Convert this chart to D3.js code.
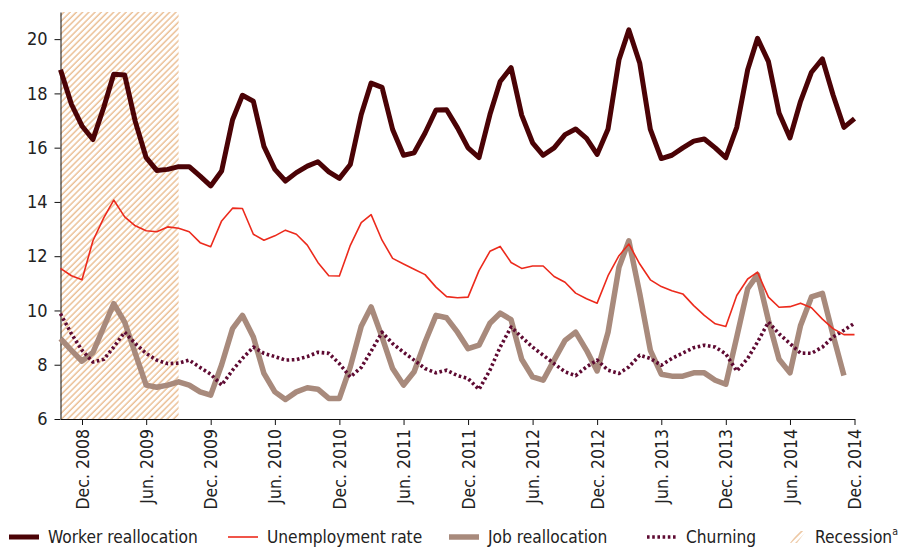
<!DOCTYPE html>
<html>
<head>
<meta charset="utf-8">
<script src="https://cdn.jsdelivr.net/npm/d3@7"></script>
<style>
  html, body { margin: 0; padding: 0; background: #fff; }
  svg text { font-family: "Liberation Sans Narrow", "DejaVu Sans Condensed", "Roboto", sans-serif; fill: #222; }
</style>
</head>
<body>
<div id="chart"></div>
<script>
// monthly series, Oct. 2008 - Dec. 2014
const firstMonth = "2008-10";
const workerRealloc = [18.87, 17.6, 16.8, 16.3, 17.5, 18.71, 18.68, 16.97, 15.63, 15.16, 15.2, 15.3,
  15.3, 14.95, 14.59, 15.14, 17.03, 17.93, 17.71, 16.05, 15.2, 14.77, 15.08, 15.32,
  15.48, 15.11, 14.87, 15.38, 17.22, 18.38, 18.22, 16.67, 15.72, 15.81, 16.54, 17.39,
  17.4, 16.73, 15.99, 15.63, 17.22, 18.44, 18.95, 17.2, 16.18, 15.72, 15.99, 16.48,
  16.69, 16.34, 15.75, 16.69, 19.24, 20.34, 19.11, 16.67, 15.6, 15.72, 15.99, 16.24,
  16.32, 15.99, 15.63, 16.75, 18.87, 20.03, 19.17, 17.28, 16.36, 17.71, 18.78, 19.27,
  17.95, 16.75, 17.07];
const unemployment = [11.55, 11.28, 11.13, 12.57, 13.42, 14.07, 13.45, 13.12, 12.94, 12.9, 13.08, 13.03,
  12.9, 12.5, 12.35, 13.3, 13.77, 13.76, 12.81, 12.59, 12.75, 12.96, 12.81, 12.41,
  11.77, 11.28, 11.27, 12.4, 13.24, 13.53, 12.59, 11.92, 11.71, 11.52, 11.32, 10.86,
  10.51, 10.47, 10.49, 11.47, 12.18, 12.36, 11.77, 11.55, 11.64, 11.64, 11.25, 11.04,
  10.64, 10.43, 10.27, 11.28, 12.02, 12.45, 11.71, 11.13, 10.88, 10.73, 10.61, 10.18,
  9.82, 9.51, 9.41, 10.55, 11.16, 11.41, 10.49, 10.12, 10.14, 10.27, 10.1, 9.68,
  9.33, 9.11, 9.11];
const jobRealloc = [8.96, 8.53, 8.13, 8.45, 9.4, 10.25, 9.57, 8.42, 7.25, 7.17, 7.25, 7.37,
  7.25, 7.0, 6.88, 8.0, 9.33, 9.82, 9.02, 7.68, 7.0, 6.72, 7.0, 7.15,
  7.1, 6.76, 6.76, 7.92, 9.42, 10.13, 9.02, 7.86, 7.25, 7.74, 8.84, 9.82,
  9.73, 9.2, 8.59, 8.72, 9.53, 9.9, 9.66, 8.2, 7.55, 7.43, 8.17, 8.9,
  9.2, 8.53, 7.77, 9.2, 11.59, 12.57, 10.61, 8.53, 7.65, 7.58, 7.58, 7.7,
  7.7, 7.43, 7.28, 9.02, 10.8, 11.32, 9.63, 8.2, 7.7, 9.45, 10.5, 10.63,
  9.1, 7.6, null];
const churning = [9.88, 9.14, 8.53, 8.1, 8.2, 8.65, 9.2, 8.78, 8.42, 8.17, 8.04, 8.06,
  8.17, 7.9, 7.65, 7.25, 7.8, 8.23, 8.65, 8.42, 8.3, 8.17, 8.19, 8.3,
  8.46, 8.42, 8.04, 7.55, 7.9, 8.5, 9.2, 8.78, 8.46, 8.17, 7.86, 7.7,
  7.8, 7.6, 7.49, 7.09, 7.8, 8.65, 9.39, 9.02, 8.65, 8.35, 8.04, 7.74,
  7.6, 7.92, 8.17, 7.8, 7.68, 7.92, 8.35, 8.23, 7.98, 8.23, 8.43, 8.63,
  8.72, 8.65, 8.4, 7.77, 8.23, 8.84, 9.57, 9.14, 8.78, 8.43, 8.42, 8.65,
  9.02, 9.27, 9.53];
const recession = ["2008-10", "2009-09"];
const xTicks = ["2008-12", "2009-06", "2009-12", "2010-06", "2010-12", "2011-06", "2011-12",
  "2012-06", "2012-12", "2013-06", "2013-12", "2014-06", "2014-12"];
const yTicks = [6, 8, 10, 12, 14, 16, 18, 20];

const width = 903, height = 548;
const margin = {left: 60.5, right: 48.5, top: 12, bottom: 129};

const parseMonth = d3.timeParse("%Y-%m");
const start = parseMonth(firstMonth);
const monthAt = i => d3.timeMonth.offset(start, i);
const lastMonth = monthAt(workerRealloc.length - 1);

const x = d3.scaleTime()
  .domain([start, lastMonth])
  .range([margin.left, width - margin.right]);
const y = d3.scaleLinear()
  .domain([6, 21])
  .range([height - margin.bottom, margin.top]);

const svg = d3.select("#chart").append("svg")
  .attr("width", width)
  .attr("height", height);

// hatch for recession
const defs = svg.append("defs");
defs.append("pattern")
  .attr("id", "hatch")
  .attr("patternUnits", "userSpaceOnUse")
  .attr("width", 4.4)
  .attr("height", 4.4)
  .attr("patternTransform", "rotate(45)")
  .append("line")
  .attr("x1", 1).attr("y1", 0)
  .attr("x2", 1).attr("y2", 4.4)
  .attr("stroke", "#e8b788")
  .attr("stroke-width", 1.3);

svg.append("rect")
  .attr("x", x(parseMonth(recession[0])))
  .attr("y", y(21))
  .attr("width", x(parseMonth(recession[1])) - x(parseMonth(recession[0])))
  .attr("height", y(6) - y(21))
  .attr("fill", "url(#hatch)");

// axes
const yAxis = svg.append("g")
  .attr("transform", `translate(${margin.left},0)`)
  .call(d3.axisLeft(y).tickValues(yTicks).tickSize(6).tickSizeOuter(0).tickPadding(7));
yAxis.selectAll("text").attr("font-size", 18).style("font-family", null);

const fmt = d3.timeFormat("%b. %Y");
const xAxis = svg.append("g")
  .attr("transform", `translate(0,${y(6)})`)
  .call(d3.axisBottom(x).tickValues(xTicks.map(parseMonth)).tickFormat(fmt).tickSize(6).tickSizeOuter(0));
xAxis.selectAll("text")
  .attr("font-size", 17.5)
  .style("font-family", null)
  .attr("transform", "rotate(-90)")
  .attr("text-anchor", "end")
  .attr("x", -10)
  .attr("y", 0)
  .attr("dy", "0.35em");

svg.selectAll(".domain, .tick line").attr("stroke", "#111");
svg.selectAll(".tick text").attr("fill", "#222");

// lines
const series = [
  {name: "Worker reallocation", values: workerRealloc, color: "#4b0306", width: 5, dash: null},
  {name: "Unemployment rate", values: unemployment, color: "#ec2a1c", width: 1.6, dash: null},
  {name: "Job reallocation", values: jobRealloc, color: "#a88a7c", width: 5.5, dash: null},
  {name: "Churning", values: churning, color: "#5e0a32", width: 3.6, dash: "2.6 2.6"}
];

const line = d3.line()
  .defined(d => d.v != null)
  .x(d => x(d.date))
  .y(d => y(d.v));

const drawOrder = [2, 3, 1, 0];
drawOrder.forEach(k => {
  const s = series[k];
  svg.append("path")
    .datum(s.values.map((v, i) => ({date: monthAt(i), v: v})))
    .attr("fill", "none")
    .attr("stroke", s.color)
    .attr("stroke-width", s.width)
    .attr("stroke-linejoin", "round")
    .attr("stroke-dasharray", s.dash)
    .attr("d", line);
});

// legend
const legY = 537;
const legFont = 17.2;
const legend = svg.append("g");
const legItems = [
  {x: 9, text: "Worker reallocation", s: series[0]},
  {x: 228, text: "Unemployment rate", s: series[1]},
  {x: 449, text: "Job reallocation", s: series[2]},
  {x: 647, text: "Churning", s: series[3]}
];
legItems.forEach(d => {
  legend.append("line")
    .attr("x1", d.x).attr("x2", d.x + 30)
    .attr("y1", legY).attr("y2", legY)
    .attr("stroke", d.s.color)
    .attr("stroke-width", d.s.width)
    .attr("stroke-dasharray", d.s.dash);
  legend.append("text")
    .attr("x", d.x + 39)
    .attr("y", legY)
    .attr("dy", "0.35em")
    .attr("font-size", legFont)
    .text(d.text);
});
legend.append("path")
  .attr("d", `M790,${legY + 6} L799,${legY - 6} L806,${legY - 6} L797,${legY + 6} Z`)
  .attr("fill", "url(#hatch)");
const rt = legend.append("text")
  .attr("x", 815)
  .attr("y", legY)
  .attr("dy", "0.35em")
  .attr("font-size", legFont)
  .text("Recession");
rt.append("tspan")
  .attr("font-size", 10.5)
  .attr("dy", "-0.75em")
  .text("a");
</script>
</body>
</html>
